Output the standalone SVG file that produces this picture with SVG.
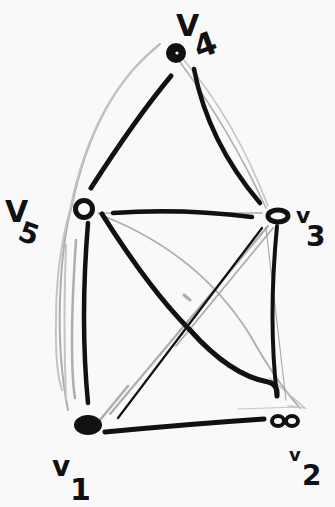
<svg xmlns="http://www.w3.org/2000/svg" width="335" height="507" viewBox="0 0 335 507">
<style>
.bg{fill:#f9f9f9}
.ink{fill:none;stroke:#111;stroke-linecap:round;stroke-linejoin:round}
.gray{fill:none;stroke:#9a9a9a;stroke-linecap:round;opacity:0.8}
.lg{fill:none;stroke:#c4c4c4;stroke-linecap:round}
.lbl{font-family:"DejaVu Sans",sans-serif;font-weight:bold;fill:#111}
.dot{fill:#111}
</style>
<rect class="bg" x="0" y="0" width="335" height="507"/>
<g id="connectors">
  <!-- gray strokes -->
  <path class="gray" stroke-width="2" d="M160,44 Q95,95 72,205 Q62,240 60,300 Q58,360 68,410"/>
  <path class="lg" stroke-width="2" d="M156,48 Q92,100 70,210 Q56,260 56,320 Q55,370 62,390"/>
  <path class="gray" stroke-width="2.5" d="M76,240 Q72,300 72,340 Q72,380 75,398"/>
  <path class="lg" stroke-width="2" d="M66,245 Q63,320 66,400"/>
  <path class="gray" stroke-width="1.5" d="M180,62 Q230,130 266,208"/>
  <path class="lg" stroke-width="1.5" d="M184,60 Q235,120 268,206"/>
  <path class="gray" stroke-width="1.5" d="M98,213 L262,213"/>
  <path class="gray" stroke-width="1.8" d="M106,217 Q200,255 250,335 Q275,380 300,408"/>
  <path class="lg" stroke-width="1.5" d="M270,378 L305,408 L288,406"/>
  <path class="gray" stroke-width="2.2" d="M268,226 L110,414"/>
  <path class="gray" stroke-width="1.8" d="M273,228 L176,346"/>
  <path class="gray" stroke-width="1.2" d="M266,228 L286,400"/>
  <path class="lg" stroke-width="1.2" d="M238,409 L298,407"/>
  <path class="gray" stroke-width="2.5" d="M100,420 L128,386"/>
  <path class="gray" stroke-width="3" d="M184,295 L190,300"/>
  <!-- black strokes -->
  <path class="ink" stroke-width="5" d="M171,76 Q136,118 91,188"/>
  <path class="ink" stroke-width="4.5" d="M194,69 Q208,142 260,203"/>
  <path class="ink" stroke-width="4.5" d="M113,213 Q180,208 252,217"/>
  <path class="ink" stroke-width="4.5" d="M88,223 Q80,320 88,403"/>
  <path class="ink" stroke-width="5" d="M102,214 Q150,290 190,330 Q230,375 268,382 Q278,384 277,396"/>
  <path class="ink" stroke-width="4" d="M277,226 Q268,320 277,396"/>
  <path class="ink" stroke-width="2.2" d="M262,228 L118,418"/>
  <path class="ink" stroke-width="5" d="M105,432 Q190,424 264,419"/>
</g>
<g id="v4">
  <circle class="dot" cx="176" cy="53" r="10"/>
  <circle cx="177" cy="53" r="1.6" fill="#f9f9f9"/>
  <text class="lbl" x="176" y="36" font-size="30">V</text>
  <text class="lbl" x="193" y="56" font-size="32" transform="rotate(-20 204 42)">4</text>
</g>
<g id="v5">
  <circle cx="84" cy="209" r="8.5" fill="#f9f9f9" stroke="#111" stroke-width="5"/>
  <text class="lbl" x="5" y="222" font-size="30">V</text>
  <text class="lbl" x="20" y="244" font-size="28" transform="rotate(20 32 232)">5</text>
</g>
<g id="v3">
  <ellipse cx="278" cy="216" rx="10" ry="6" fill="#f9f9f9" stroke="#111" stroke-width="5"/>
  <text class="lbl" x="296" y="223" font-size="22">v</text>
  <text class="lbl" x="306" y="246" font-size="28">3</text>
</g>
<g id="v1">
  <ellipse class="dot" cx="88" cy="425" rx="14" ry="10"/>
  <text class="lbl" x="52" y="476" font-size="28">v</text>
  <text class="lbl" x="70" y="500" font-size="30">1</text>
</g>
<g id="v2">
  <ellipse cx="278" cy="421" rx="6" ry="5" fill="#f9f9f9" stroke="#111" stroke-width="4"/>
  <ellipse cx="292" cy="421" rx="6" ry="5" fill="#f9f9f9" stroke="#111" stroke-width="4"/>
  <text class="lbl" x="289" y="461" font-size="18">v</text>
  <text class="lbl" x="302" y="485" font-size="28">2</text>
</g>
</svg>
